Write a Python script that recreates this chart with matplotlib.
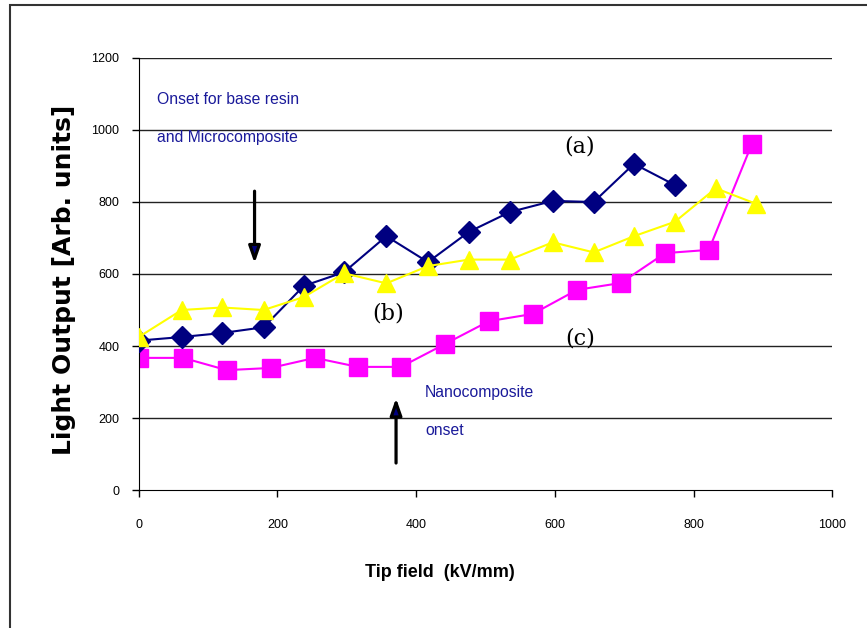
import numpy as np
import matplotlib
matplotlib.use("Agg")
import matplotlib.pyplot as plt
from matplotlib.patches import Rectangle

# (a) base resin / microcomposite - navy diamonds
xa = [0, 62, 120, 180, 238, 296, 357, 417, 476, 535, 597, 656, 714, 773]
ya = [415, 425, 436, 452, 567, 605, 705, 633, 717, 772, 803, 800, 906, 847]

# (b) yellow triangles
xb = [0, 62, 120, 180, 238, 296, 357, 417, 476, 535, 597, 656, 714, 773, 832, 890]
yb = [425, 500, 507, 500, 536, 602, 574, 622, 640, 640, 688, 660, 705, 745, 838, 795]

# (c) nanocomposite - magenta squares
xc = [0, 64, 127, 190, 254, 316, 378, 442, 505, 568, 632, 695, 759, 822, 884]
yc = [367, 367, 333, 339, 367, 342, 342, 406, 469, 489, 556, 575, 658, 667, 961]

yticks = [0, 200, 400, 600, 800, 1000, 1200]
xticks = [0, 200, 400, 600, 800, 1000]

plt.rcParams['font.family'] = ['Liberation Sans', 'DejaVu Sans']

fig = plt.figure(figsize=(8.67, 6.28), dpi=100)
ax = fig.add_axes([0.160, 0.2197, 0.800, 0.688])

for y in yticks[1:]:
    ax.axhline(y, color='#222222', lw=1.0, zorder=0)

ax.plot(xa, ya, color='#000080', lw=1.5, marker='D', ms=11, zorder=3)
ax.plot(xb, yb, color='#ffff00', lw=1.5, marker='^', ms=13, zorder=4)
ax.plot(xc, yc, color='#ff00ff', lw=1.5, marker='s', ms=13, zorder=2)

ax.set_xlim(0, 1000)
ax.set_ylim(0, 1200)
ax.set_xticks(xticks)
ax.set_yticks(yticks)
ax.tick_params(labelsize=9, length=5, width=1, direction='out', pad=16)
ax.tick_params(axis='y', pad=9)
ax.spines['top'].set_visible(False)
ax.spines['right'].set_visible(False)

ax.set_xlabel('Tip field  (kV/mm)', fontsize=13, fontweight='bold')
ax.xaxis.set_label_coords(0.434, -0.172)
ax.set_ylabel('Light Output [Arb. units]', fontsize=18, fontweight='bold',
              family='DejaVu Sans')
ax.yaxis.set_label_coords(-0.091, 0.486)

navy = '#1a1a9a'
ax.text(27, 1085, 'Onset for base resin', color=navy, fontsize=11.3, va='center')
ax.text(27, 980, 'and Microcomposite', color=navy, fontsize=11.3, va='center')
ax.text(413, 272, 'Nanocomposite', color=navy, fontsize=11.3, va='center')
ax.text(413, 165, 'onset', color=navy, fontsize=11.3, va='center')

ax.text(636, 955, '(a)', family='serif', fontsize=16, ha='center', va='center')
ax.text(360, 490, '(b)', family='serif', fontsize=16, ha='center', va='center')
ax.text(636, 420, '(c)', family='serif', fontsize=16, ha='center', va='center')

arrow = dict(arrowstyle='-|>,head_length=1.0,head_width=0.35', lw=2.3,
             facecolor='#000080', edgecolor='black', shrinkA=0, shrinkB=0)
ax.annotate('', xy=(167, 630), xytext=(167, 830), arrowprops=arrow)
ax.annotate('', xy=(371, 255), xytext=(371, 75), arrowprops=arrow)

fig.patches.append(Rectangle((10 / 867, -0.01), 1.2, (628 - 5) / 628 + 0.01,
                             transform=fig.transFigure, fill=False,
                             edgecolor='#333333', lw=1.5))

fig.savefig('out.png', dpi=100)
